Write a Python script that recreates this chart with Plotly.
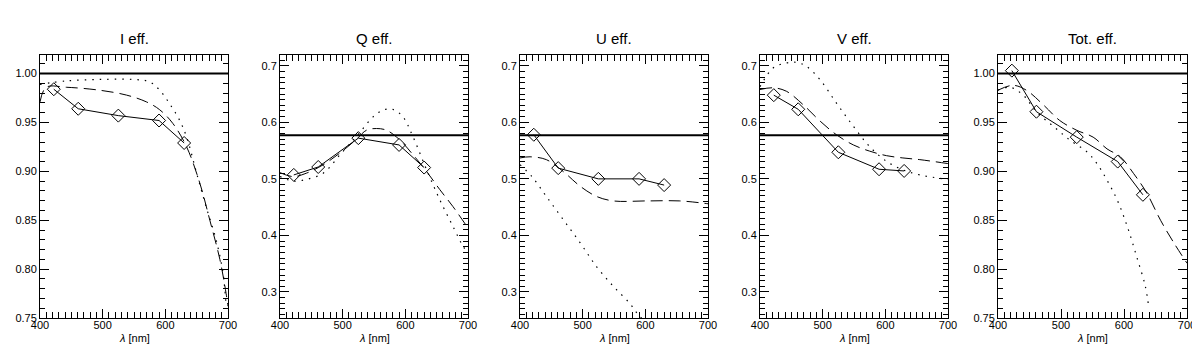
"""Five-panel efficiency plot (I, Q, U, V, total) versus wavelength."""

import plotly.graph_objects as go
from plotly.subplots import make_subplots

PANEL_TITLES = ["I eff.", "Q eff.", "U eff.", "V eff.", "Tot. eff."]
REF_LEVEL = [1.0, 0.577, 0.577, 0.577, 1.0]
Y_RANGES = [[0.75, 1.019], [0.254, 0.719], [0.254, 0.719], [0.254, 0.719], [0.75, 1.019]]
Y_DTICK = [0.05, 0.1, 0.1, 0.1, 0.05]
X_RANGE = [400, 700]

# measured points (solid line, diamonds)
MEAS_WL = [422, 461, 525, 590, 630]
MEAS_I = [0.984, 0.964, 0.957, 0.952, 0.929]
MEAS_Q = [0.507, 0.521, 0.572, 0.560, 0.520]
MEAS_U = [0.578, 0.519, 0.500, 0.500, 0.489]
MEAS_V = [0.648, 0.623, 0.547, 0.517, 0.514]
MEAS_TOT = [1.003, 0.961, 0.935, 0.910, 0.876]

# dashed model curves
DASH_I_WL = [400, 410, 442, 495, 538, 570, 591, 612, 634, 655, 671, 687, 697, 700]
DASH_I = [0.971, 0.986, 0.986, 0.983, 0.978, 0.971, 0.963, 0.949, 0.925, 0.888, 0.850, 0.810, 0.775, 0.762]
DASH_Q_WL = [400, 421, 442, 469, 496, 522, 538, 554, 570, 591, 612, 634, 655, 676, 700]
DASH_Q = [0.511, 0.504, 0.510, 0.525, 0.546, 0.570, 0.586, 0.589, 0.586, 0.569, 0.543, 0.513, 0.481, 0.451, 0.413]
DASH_U_WL = [400, 416, 442, 469, 496, 522, 549, 602, 655, 700]
DASH_U = [0.537, 0.539, 0.534, 0.513, 0.487, 0.469, 0.461, 0.461, 0.461, 0.456]
DASH_V_WL = [400, 421, 442, 469, 496, 522, 549, 575, 602, 628, 655, 700]
DASH_V = [0.658, 0.661, 0.655, 0.631, 0.602, 0.578, 0.560, 0.549, 0.541, 0.537, 0.534, 0.527]
DASH_TOT_WL = [400, 424, 445, 472, 498, 525, 551, 573, 594, 615, 636, 658, 679, 700]
DASH_TOT = [0.983, 0.988, 0.983, 0.968, 0.952, 0.942, 0.935, 0.923, 0.915, 0.898, 0.878, 0.850, 0.827, 0.806]

# dotted model curves
DOT_I_WL = [400, 442, 496, 549, 575, 591, 607, 623, 634, 650, 665, 681, 692, 697]
DOT_I = [0.989, 0.9925, 0.994, 0.994, 0.9915, 0.983, 0.969, 0.952, 0.935, 0.898, 0.864, 0.830, 0.796, 0.762]
DOT_Q_WL = [400, 421, 442, 469, 496, 522, 549, 565, 580, 596, 612, 634, 655, 676, 692, 700]
DOT_Q = [0.504, 0.496, 0.499, 0.510, 0.543, 0.575, 0.610, 0.622, 0.623, 0.610, 0.575, 0.516, 0.463, 0.416, 0.381, 0.369]
DOT_U_WL = [400, 419, 442, 469, 496, 522, 549, 575, 591, 600]
DOT_U = [0.525, 0.504, 0.469, 0.428, 0.387, 0.345, 0.310, 0.280, 0.257, 0.250]
DOT_V_WL = [400, 421, 442, 458, 474, 496, 522, 549, 575, 602, 628, 655, 700]
DOT_V = [0.663, 0.696, 0.705, 0.706, 0.699, 0.675, 0.634, 0.593, 0.557, 0.531, 0.516, 0.507, 0.499]
DOT_TOT_WL = [400, 419, 440, 461, 488, 514, 541, 557, 573, 589, 605, 620, 634, 639]
DOT_TOT = [0.983, 0.986, 0.978, 0.961, 0.946, 0.932, 0.920, 0.908, 0.891, 0.871, 0.844, 0.813, 0.782, 0.762]

MEAS = [MEAS_I, MEAS_Q, MEAS_U, MEAS_V, MEAS_TOT]
DASH = [(DASH_I_WL, DASH_I), (DASH_Q_WL, DASH_Q), (DASH_U_WL, DASH_U), (DASH_V_WL, DASH_V), (DASH_TOT_WL, DASH_TOT)]
DOT = [(DOT_I_WL, DOT_I), (DOT_Q_WL, DOT_Q), (DOT_U_WL, DOT_U), (DOT_V_WL, DOT_V), (DOT_TOT_WL, DOT_TOT)]

# page layout in screen pixels; the html body adds an 8px offset
W, H = 1200, 358
OFF = 8
BOX_LEFT, BOX_RIGHT, BOX_TOP, BOX_BOTTOM = 40, 1187, 55, 318
ML, MT = BOX_LEFT - OFF, BOX_TOP - OFF
MR = W - (BOX_RIGHT - OFF)
MB = H - (BOX_BOTTOM - OFF)
PW, PH = W - ML - MR, H - MT - MB
X_DOMAINS_PX = [(40, 228), (280, 468), (520, 708), (760, 948), (998, 1187)]
FONT = "Liberation Sans, Arial, sans-serif"


def px_x(px):
    return (px - BOX_LEFT) / PW


def px_y(py):
    return (BOX_BOTTOM - py) / PH


fig = make_subplots(rows=1, cols=5)

for i in range(5):
    col = i + 1
    fig.add_trace(go.Scatter(
        x=DOT[i][0], y=DOT[i][1], mode="lines", line_shape="spline",
        line=dict(color="black", width=1.2, dash="1.5px,6px"), showlegend=False,
    ), row=1, col=col)
    fig.add_trace(go.Scatter(
        x=DASH[i][0], y=DASH[i][1], mode="lines", line_shape="spline",
        line=dict(color="black", width=1, dash="12px,6px"), showlegend=False,
    ), row=1, col=col)
    fig.add_trace(go.Scatter(
        x=MEAS_WL, y=MEAS[i], mode="lines+markers",
        line=dict(color="black", width=1),
        marker=dict(symbol="diamond-open", size=10, color="black", line=dict(width=1)),
        showlegend=False,
    ), row=1, col=col)
    fig.add_hline(y=REF_LEVEL[i], line=dict(color="black", width=2), row=1, col=col)

    x0, x1 = X_DOMAINS_PX[i]
    fig.update_xaxes(
        domain=[px_x(x0), min(px_x(x1), 1.0)], range=X_RANGE, dtick=100, automargin=False,
        showline=True, linecolor="black", linewidth=1, mirror="ticks",
        ticks="inside", ticklen=9, tickcolor="black", tickwidth=1,
        minor=dict(dtick=10, ticks="inside", ticklen=6, tickcolor="black"),
        showgrid=False, zeroline=False, ticklabelstandoff=-3,
        tickfont=dict(family=FONT, size=11, color="black"),
        row=1, col=col,
    )
    fig.update_yaxes(
        domain=[0, 1], range=Y_RANGES[i], dtick=Y_DTICK[i], automargin=False,
        tickformat=".2f" if Y_DTICK[i] == 0.05 else ".1f",
        showline=True, linecolor="black", linewidth=1, mirror="ticks",
        ticks="inside", ticklen=9, tickcolor="black", tickwidth=1,
        minor=dict(dtick=0.01, ticks="inside", ticklen=5, tickcolor="black"),
        showgrid=False, zeroline=False,
        tickfont=dict(family=FONT, size=11, color="black"),
        row=1, col=col,
    )
    cx = px_x((x0 + x1) / 2)
    fig.add_annotation(
        x=cx, y=px_y(38), xref="paper", yref="paper", text=PANEL_TITLES[i],
        xanchor="center", yanchor="middle",
        showarrow=False, font=dict(family=FONT, size=15, color="black"),
    )
    fig.add_annotation(
        x=cx, y=px_y(338), xref="paper", yref="paper",
        text="<i>λ</i> [nm]", xanchor="center", yanchor="middle", showarrow=False,
        font=dict(family=FONT, size=11, color="black"),
    )

fig.update_layout(
    width=W, height=H,
    margin=dict(l=ML, r=MR, t=MT, b=MB),
    paper_bgcolor="white", plot_bgcolor="white",
    font=dict(family=FONT, color="black"),
)

fig.write_html("out.html")
